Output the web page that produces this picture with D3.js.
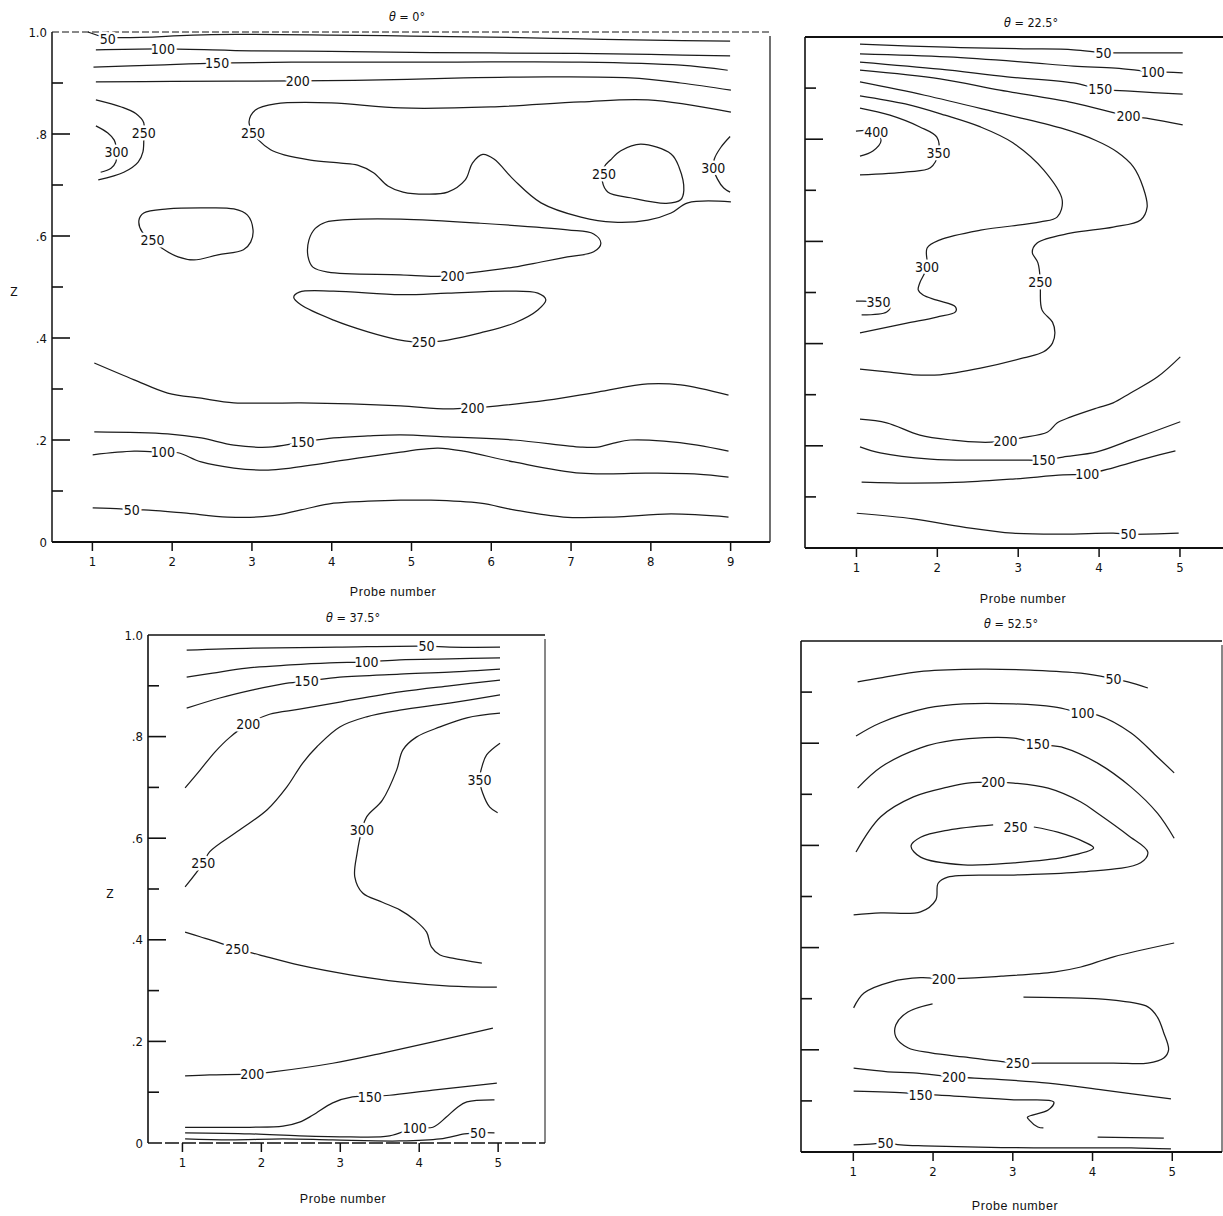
<!DOCTYPE html>
<html>
<head>
<meta charset="utf-8">
<script src="https://cdn.jsdelivr.net/npm/d3@7"></script>
<style>
  body { margin: 0; background: #fff; }
  svg text { font-family: "Liberation Sans Narrow", "DejaVu Sans Condensed", "Liberation Sans", sans-serif; fill: #111; }
  .contour { fill: none; stroke: #1c1c1c; stroke-width: 1.25; stroke-linejoin: round; }
  .clabel { font-size: 14px; paint-order: stroke; stroke: #fff; stroke-width: 5px; stroke-linejoin: round; }
  .tick text { font-size: 13px; }
  .atitle { font-family: "Liberation Sans", sans-serif !important; font-size: 12.5px; letter-spacing: 0.6px; }
</style>
</head>
<body>
<svg id="chart" width="1223" height="1216"></svg>
<script>
// tick values
const probes9 = [1, 2, 3, 4, 5, 6, 7, 8, 9];
const probes5 = [1, 2, 3, 4, 5];
const zTicks = [0.1, 0.2, 0.3, 0.4, 0.5, 0.6, 0.7, 0.8, 0.9];
const zLabelValues = [0, 0.2, 0.4, 0.6, 0.8, 1.0];
const zLabelText = ["0", ".2", ".4", ".6", ".8", "1.0"];

// contour lines, points are [probe number, Z], lab = where the value is written
const theta0 = [
  {v: "50", pts: [[0.95, 1.0], [1.18, 0.99], [2.5, 0.995], [4, 0.994], [5, 0.992], [6, 0.99], [7, 0.987], [8, 0.984], [9, 0.982]], lab: [1.2, 0.986]},
  {v: "100", pts: [[1.05, 0.965], [1.89, 0.967], [3, 0.963], [4, 0.962], [5, 0.96], [6, 0.959], [7, 0.958], [8, 0.956], [9, 0.953]], lab: [1.89, 0.967]},
  {v: "150", pts: [[1.02, 0.931], [1.8, 0.935], [2.57, 0.939], [3.5, 0.941], [5.4, 0.941], [7.13, 0.941], [8.38, 0.935], [8.97, 0.925]], lab: [2.57, 0.939]},
  {v: "200", pts: [[1.05, 0.902], [2, 0.903], [3.58, 0.904], [4.62, 0.906], [5.66, 0.91], [6.71, 0.912], [7.75, 0.91], [8.38, 0.9], [9.01, 0.886]], lab: [3.58, 0.904]},
  {v: "250", pts: [[9.01, 0.843], [7.97, 0.867], [7.13, 0.863], [6.0, 0.853], [4.87, 0.851], [4.0, 0.861], [3.3, 0.859], [3.05, 0.847], [2.97, 0.824], [3.02, 0.802], [3.09, 0.788], [3.24, 0.769], [3.41, 0.759], [3.74, 0.749], [4.12, 0.743], [4.33, 0.739], [4.53, 0.724], [4.71, 0.698], [4.9, 0.686], [5.2, 0.682], [5.46, 0.686], [5.68, 0.71], [5.77, 0.743], [5.9, 0.76], [6.04, 0.751], [6.29, 0.71], [6.63, 0.665], [7.13, 0.637], [7.54, 0.627], [7.97, 0.631], [8.26, 0.645], [8.47, 0.665], [9.01, 0.667]], lab: [3.02, 0.802]},
  {v: "250", pts: [[1.05, 0.867], [1.37, 0.853], [1.55, 0.84], [1.65, 0.822], [1.65, 0.802], [1.64, 0.765], [1.58, 0.745], [1.4, 0.725], [1.08, 0.71]], lab: [1.65, 0.802]},
  {v: "300", pts: [[1.05, 0.816], [1.2, 0.802], [1.28, 0.788], [1.31, 0.765], [1.3, 0.745], [1.24, 0.733], [1.11, 0.725]], lab: [1.31, 0.765]},
  {v: "250", closed: true, pts: [[1.86, 0.578], [2.08, 0.559], [2.28, 0.553], [2.58, 0.563], [2.9, 0.573], [2.99, 0.588], [3.02, 0.612], [2.95, 0.641], [2.78, 0.653], [2.37, 0.655], [1.95, 0.653], [1.65, 0.645], [1.59, 0.631], [1.63, 0.608]], lab: [1.76, 0.592]},
  {v: "200", closed: true, pts: [[5.34, 0.521], [4.87, 0.524], [3.96, 0.529], [3.77, 0.539], [3.71, 0.559], [3.72, 0.592], [3.8, 0.615], [3.93, 0.627], [4.2, 0.632], [4.87, 0.633], [5.87, 0.625], [6.96, 0.612], [7.29, 0.604], [7.38, 0.586], [7.29, 0.569], [6.96, 0.559], [6.63, 0.549], [6.29, 0.539], [5.71, 0.527]], lab: [5.52, 0.522]},
  {v: "250", closed: true, pts: [[5.0, 0.393], [4.83, 0.397], [4.46, 0.412], [4.03, 0.435], [3.62, 0.465], [3.53, 0.48], [3.6, 0.49], [4.03, 0.492], [4.87, 0.485], [5.46, 0.488], [6.21, 0.492], [6.59, 0.488], [6.69, 0.475], [6.59, 0.455], [6.29, 0.429], [5.87, 0.41], [5.46, 0.396], [5.3, 0.393]], lab: [5.16, 0.392]},
  {v: "250", closed: true, pts: [[7.4, 0.706], [7.47, 0.686], [7.75, 0.675], [8.2, 0.664], [8.38, 0.671], [8.42, 0.69], [8.36, 0.735], [8.26, 0.761], [7.88, 0.78], [7.63, 0.767], [7.5, 0.749], [7.42, 0.735]], lab: [7.42, 0.722]},
  {v: "300", pts: [[9.0, 0.795], [8.88, 0.773], [8.8, 0.75], [8.79, 0.733], [8.84, 0.712], [8.92, 0.694], [9.0, 0.686]], lab: [8.79, 0.733]},
  {v: "200", pts: [[1.03, 0.351], [1.53, 0.318], [1.95, 0.292], [2.37, 0.282], [2.78, 0.273], [3.62, 0.273], [4.25, 0.271], [4.87, 0.267], [5.46, 0.261], [5.77, 0.263], [6.09, 0.267], [6.71, 0.278], [7.34, 0.294], [7.97, 0.31], [8.38, 0.308], [8.98, 0.288]], lab: [5.77, 0.263]},
  {v: "150", pts: [[1.03, 0.216], [1.95, 0.212], [2.37, 0.204], [2.78, 0.19], [3.21, 0.186], [3.64, 0.196], [4.03, 0.204], [4.46, 0.208], [4.87, 0.21], [5.46, 0.206], [6.29, 0.2], [7.13, 0.186], [7.34, 0.186], [7.54, 0.194], [7.75, 0.2], [8.17, 0.198], [8.59, 0.19], [8.98, 0.178]], lab: [3.64, 0.196]},
  {v: "100", pts: [[1.01, 0.171], [1.53, 0.178], [1.89, 0.176], [2.08, 0.175], [2.37, 0.157], [2.78, 0.145], [3.21, 0.141], [3.49, 0.145], [4.35, 0.165], [4.87, 0.176], [5.04, 0.18], [5.34, 0.184], [5.66, 0.178], [6.29, 0.157], [7.13, 0.135], [7.97, 0.135], [8.59, 0.133], [8.98, 0.127]], lab: [1.89, 0.176]},
  {v: "50", pts: [[1.01, 0.067], [1.36, 0.065], [1.5, 0.063], [1.65, 0.063], [2.15, 0.057], [2.7, 0.049], [3.24, 0.051], [3.62, 0.063], [4.03, 0.076], [4.46, 0.08], [4.87, 0.082], [5.25, 0.082], [5.87, 0.076], [6.29, 0.063], [6.91, 0.049], [7.54, 0.049], [8.26, 0.055], [8.98, 0.049]], lab: [1.5, 0.063]}
];

const theta22 = [
  {v: "50", pts: [[1.05, 0.986], [2.13, 0.98], [3.07, 0.977], [3.69, 0.975], [4.06, 0.969], [4.27, 0.969], [5.04, 0.969]], lab: [4.06, 0.969]},
  {v: "100", pts: [[1.05, 0.967], [2.13, 0.961], [3.07, 0.951], [3.69, 0.943], [4.21, 0.939], [4.67, 0.932], [5.04, 0.93]], lab: [4.67, 0.932]},
  {v: "150", pts: [[1.05, 0.951], [2.04, 0.937], [2.87, 0.922], [3.69, 0.91], [4.02, 0.898], [4.39, 0.894], [5.04, 0.888]], lab: [4.02, 0.898]},
  {v: "200", pts: [[1.05, 0.935], [2.04, 0.918], [2.78, 0.896], [3.69, 0.871], [4.37, 0.845], [4.64, 0.84], [5.04, 0.828]], lab: [4.37, 0.845]},
  {v: "250", pts: [[1.05, 0.912], [1.85, 0.886], [2.78, 0.851], [3.53, 0.822], [3.96, 0.798], [4.23, 0.775], [4.43, 0.746], [4.55, 0.706], [4.6, 0.667], [4.52, 0.642], [4.18, 0.628], [3.65, 0.616], [3.24, 0.597], [3.18, 0.579], [3.25, 0.558], [3.28, 0.521], [3.28, 0.505], [3.3, 0.466], [3.43, 0.442], [3.46, 0.421], [3.43, 0.401], [3.32, 0.384], [3.07, 0.372], [2.54, 0.352], [2.04, 0.339], [1.71, 0.339], [1.42, 0.344], [1.05, 0.35]], lab: [3.28, 0.521]},
  {v: "300", pts: [[1.05, 0.885], [1.61, 0.869], [2.1, 0.847], [2.54, 0.824], [2.94, 0.793], [3.32, 0.74], [3.55, 0.681], [3.49, 0.648], [3.28, 0.638], [2.54, 0.622], [2.04, 0.603], [1.88, 0.587], [1.88, 0.55], [1.79, 0.519], [1.77, 0.505], [1.83, 0.495], [2.0, 0.485], [2.23, 0.472], [2.23, 0.462], [2.0, 0.452], [1.63, 0.44], [1.05, 0.421]], lab: [1.88, 0.55]},
  {v: "350", pts: [[1.05, 0.861], [1.42, 0.847], [1.79, 0.824], [2.0, 0.804], [2.02, 0.773], [1.92, 0.744], [1.63, 0.736], [1.05, 0.73]], lab: [2.02, 0.773]},
  {v: "400", pts: [[1.0, 0.816], [1.25, 0.814], [1.31, 0.797], [1.21, 0.777], [1.05, 0.767]], lab: [1.25, 0.814]},
  {v: "350", pts: [[1.0, 0.483], [1.28, 0.481], [1.42, 0.472], [1.38, 0.462], [1.07, 0.456]], lab: [1.28, 0.481]},
  {v: "200", pts: [[1.05, 0.252], [1.38, 0.245], [1.79, 0.221], [2.2, 0.211], [2.54, 0.207], [2.85, 0.209], [3.03, 0.215], [3.37, 0.227], [3.49, 0.245], [3.65, 0.256], [3.98, 0.274], [4.18, 0.284], [4.39, 0.303], [4.73, 0.335], [5.01, 0.374]], lab: [2.85, 0.209]},
  {v: "150", pts: [[1.05, 0.198], [1.3, 0.186], [1.92, 0.174], [2.54, 0.172], [3.03, 0.172], [3.32, 0.172], [3.56, 0.178], [3.98, 0.188], [4.39, 0.211], [5.01, 0.247]], lab: [3.32, 0.172]},
  {v: "100", pts: [[1.07, 0.129], [1.71, 0.127], [2.33, 0.129], [2.94, 0.135], [3.56, 0.143], [3.86, 0.145], [4.18, 0.157], [4.6, 0.176], [4.95, 0.19]], lab: [3.86, 0.145]},
  {v: "50", pts: [[1.01, 0.068], [1.71, 0.057], [2.33, 0.041], [2.94, 0.029], [3.56, 0.027], [4.18, 0.029], [4.37, 0.027], [4.99, 0.029]], lab: [4.37, 0.027]}
];

const theta37 = [
  {v: "50", pts: [[1.06, 0.97], [1.9, 0.974], [2.96, 0.976], [4.1, 0.978], [4.39, 0.976], [5.03, 0.976]], lab: [4.1, 0.978]},
  {v: "100", pts: [[1.06, 0.917], [1.39, 0.925], [1.82, 0.935], [2.37, 0.941], [2.87, 0.945], [3.34, 0.947], [3.76, 0.951], [4.39, 0.953], [5.03, 0.955]], lab: [3.34, 0.947]},
  {v: "150", pts: [[1.06, 0.856], [1.48, 0.876], [1.9, 0.892], [2.28, 0.904], [2.58, 0.909], [3.0, 0.917], [3.76, 0.923], [4.39, 0.927], [5.03, 0.933]], lab: [2.58, 0.909]},
  {v: "200", pts: [[1.04, 0.699], [1.23, 0.734], [1.42, 0.77], [1.61, 0.799], [1.84, 0.825], [2.11, 0.844], [2.49, 0.854], [3.0, 0.868], [3.76, 0.888], [4.39, 0.9], [5.03, 0.911]], lab: [1.84, 0.825]},
  {v: "250", pts: [[1.04, 0.504], [1.27, 0.551], [1.35, 0.573], [1.73, 0.616], [2.08, 0.656], [2.33, 0.701], [2.53, 0.748], [2.71, 0.78], [3.0, 0.819], [3.34, 0.839], [3.76, 0.852], [4.39, 0.866], [5.03, 0.882]], lab: [1.27, 0.551]},
  {v: "300", pts: [[5.03, 0.846], [4.61, 0.837], [4.27, 0.819], [3.97, 0.799], [3.8, 0.774], [3.72, 0.734], [3.54, 0.675], [3.34, 0.642], [3.28, 0.616], [3.22, 0.571], [3.19, 0.524], [3.29, 0.492], [3.54, 0.474], [3.76, 0.459], [3.95, 0.439], [4.1, 0.415], [4.16, 0.386], [4.27, 0.37], [4.43, 0.364], [4.8, 0.354]], lab: [3.28, 0.616]},
  {v: "350", pts: [[5.03, 0.787], [4.86, 0.764], [4.8, 0.74], [4.77, 0.715], [4.81, 0.689], [4.9, 0.661], [5.0, 0.65]], lab: [4.77, 0.715]},
  {v: "250", pts: [[1.04, 0.415], [1.23, 0.406], [1.44, 0.396], [1.7, 0.382], [1.99, 0.37], [2.49, 0.35], [3.13, 0.331], [3.76, 0.317], [4.39, 0.309], [4.99, 0.307]], lab: [1.7, 0.382]},
  {v: "200", pts: [[1.04, 0.132], [1.35, 0.134], [1.89, 0.136], [2.15, 0.14], [2.91, 0.157], [3.54, 0.177], [4.18, 0.199], [4.94, 0.226]], lab: [1.89, 0.136]},
  {v: "150", pts: [[1.04, 0.031], [1.86, 0.031], [2.28, 0.033], [2.49, 0.041], [2.66, 0.055], [2.91, 0.079], [3.16, 0.091], [3.38, 0.091], [3.63, 0.094], [4.18, 0.104], [4.99, 0.118]], lab: [3.38, 0.091]},
  {v: "100", pts: [[1.04, 0.02], [1.86, 0.018], [2.49, 0.014], [3.13, 0.012], [3.63, 0.014], [3.95, 0.03], [4.18, 0.031], [4.35, 0.051], [4.48, 0.069], [4.61, 0.081], [4.96, 0.085]], lab: [3.95, 0.03]},
  {v: "50", pts: [[1.04, 0.008], [1.61, 0.006], [2.28, 0.008], [2.91, 0.006], [3.76, 0.004], [4.27, 0.008], [4.58, 0.018], [4.75, 0.02], [4.96, 0.02]], lab: [4.75, 0.02]}
];

const theta52 = [
  {v: "50", pts: [[1.06, 0.92], [1.35, 0.928], [1.89, 0.941], [2.61, 0.945], [3.23, 0.943], [3.86, 0.937], [4.27, 0.926], [4.45, 0.92], [4.7, 0.908]], lab: [4.27, 0.926]},
  {v: "100", pts: [[1.04, 0.814], [1.35, 0.84], [1.94, 0.869], [2.39, 0.877], [3.02, 0.877], [3.52, 0.871], [3.88, 0.859], [4.07, 0.855], [4.49, 0.82], [4.82, 0.773], [5.03, 0.742]], lab: [3.88, 0.859]},
  {v: "150", pts: [[1.06, 0.712], [1.35, 0.753], [1.85, 0.791], [2.27, 0.806], [3.02, 0.81], [3.32, 0.798], [3.65, 0.791], [4.07, 0.761], [4.49, 0.714], [4.82, 0.663], [5.03, 0.614]], lab: [3.32, 0.798]},
  {v: "200", pts: [[1.04, 0.587], [1.35, 0.656], [1.76, 0.695], [2.19, 0.714], [2.44, 0.722], [2.76, 0.724], [3.02, 0.722], [3.45, 0.712], [3.86, 0.685], [4.07, 0.663], [4.45, 0.62], [4.7, 0.587], [4.61, 0.566], [3.86, 0.548], [3.02, 0.542], [2.19, 0.538], [2.07, 0.526], [2.04, 0.493], [1.85, 0.47], [1.35, 0.468], [1.01, 0.464]], lab: [2.76, 0.724]},
  {v: "250", pts: [[2.76, 0.64], [2.2, 0.63], [1.85, 0.616], [1.73, 0.599], [1.85, 0.577], [2.39, 0.562], [3.02, 0.566], [3.65, 0.577], [4.02, 0.595], [3.9, 0.607], [3.57, 0.626], [3.27, 0.636]], lab: [3.04, 0.636]},
  {v: "200", pts: [[1.01, 0.282], [1.14, 0.311], [1.48, 0.333], [1.85, 0.341], [2.14, 0.339], [2.69, 0.342], [2.86, 0.344], [3.52, 0.352], [3.86, 0.362], [4.27, 0.382], [5.03, 0.409]], lab: [2.14, 0.339]},
  {v: "250", pts: [[2.0, 0.29], [1.69, 0.274], [1.54, 0.249], [1.54, 0.225], [1.69, 0.204], [1.98, 0.194], [2.39, 0.186], [3.07, 0.174], [3.45, 0.174], [4.27, 0.174], [4.7, 0.174], [4.9, 0.184], [4.96, 0.2], [4.9, 0.233], [4.82, 0.264], [4.7, 0.284], [4.27, 0.297], [3.86, 0.301], [3.14, 0.303]], lab: [3.07, 0.174]},
  {v: "200", pts: [[1.01, 0.164], [1.44, 0.157], [1.76, 0.155], [2.27, 0.147], [2.73, 0.143], [3.45, 0.135], [4.15, 0.121], [4.99, 0.104]], lab: [2.27, 0.147]},
  {v: "150", pts: [[1.01, 0.119], [1.69, 0.115], [1.85, 0.112], [2.02, 0.112], [2.61, 0.106], [3.02, 0.102], [3.52, 0.098], [3.45, 0.082], [3.19, 0.068], [3.21, 0.063], [3.32, 0.049], [3.39, 0.047]], lab: [1.85, 0.112]},
  {v: "100", pts: [[4.07, 0.029], [4.9, 0.027]]},
  {v: "50", pts: [[1.01, 0.014], [1.26, 0.016], [1.41, 0.018], [1.6, 0.014], [1.89, 0.012], [2.44, 0.01], [3.27, 0.008], [3.86, 0.008], [4.49, 0.008], [4.99, 0.006]], lab: [1.41, 0.018]}
];

// layout of the four panels
const panels = [
  {title: "0°", data: theta0, ticks: probes9, xd: [0.5, 9.5], xr: [52, 770], yr: [542, 32], zLabels: true,
   titleAt: [407, 17], probeAt: [393, 592], zAt: [14, 292],
   frame: {top: [1, "7 3"], left: [1.5], right: [1.2], bottom: [2]}},
  {title: "22.5°", data: theta22, ticks: probes5, xd: [0.37, 5.6], xr: [805, 1228], yr: [548, 37], zLabels: false,
   titleAt: [1031, 23], probeAt: [1023, 599],
   frame: {top: [2.2], left: [1.6], bottom: [2.2]}},
  {title: "37.5°", data: theta37, ticks: probes5, xd: [0.57, 5.6], xr: [148, 545], yr: [1143, 635], zLabels: true,
   titleAt: [353, 618], probeAt: [343, 1199], zAt: [110, 894],
   frame: {top: [1.6], left: [1.6], right: [1], bottom: [1.4, "14 3"]}},
  {title: "52.5°", data: theta52, ticks: probes5, xd: [0.35, 5.63], xr: [801, 1222], yr: [1152, 641], zLabels: false,
   titleAt: [1011, 624], probeAt: [1015, 1206],
   frame: {top: [1.6], left: [1.6], right: [1], bottom: [1.8]}}
];

const svg = d3.select("#chart");

panels.forEach(p => {
  const x = d3.scaleLinear().domain(p.xd).range(p.xr);
  const y = d3.scaleLinear().domain([0, 1]).range(p.yr);
  const g = svg.append("g");
  const [xl, xrt] = p.xr, [yb, yt] = p.yr;

  // frame
  const sides = {
    top: [xl, yt, xrt, yt], bottom: [xl, yb, xrt, yb],
    left: [xl, yt, xl, yb], right: [xrt, yt + 4, xrt, yb]
  };
  Object.keys(p.frame).forEach(k => {
    const s = sides[k], st = p.frame[k];
    g.append("line")
      .attr("x1", s[0]).attr("y1", s[1]).attr("x2", s[2]).attr("y2", s[3])
      .attr("stroke", "#111").attr("stroke-width", st[0])
      .attr("stroke-dasharray", st[1] || null);
  });

  // Z ticks point inward from the left axis
  g.selectAll(".zt").data(zTicks).enter().append("line")
    .attr("x1", xl).attr("x2", d => xl + (Math.round(d * 10) % 2 === 0 ? 18 : 11))
    .attr("y1", d => y(d)).attr("y2", d => y(d))
    .attr("stroke", "#111").attr("stroke-width", 1.6);

  if (p.zLabels) {
    g.selectAll(".zl").data(zLabelValues).enter().append("text")
      .attr("x", xl - 5).attr("y", d => y(d)).attr("dy", "0.35em")
      .attr("text-anchor", "end").style("font-size", "13px")
      .text((d, i) => zLabelText[i]);
    g.append("text").attr("x", p.zAt[0]).attr("y", p.zAt[1]).attr("dy", "0.35em")
      .attr("text-anchor", "middle").style("font-size", "12px").text("Z");
  }

  // probe axis
  const ax = g.append("g").attr("transform", `translate(0,${yb})`)
    .call(d3.axisBottom(x).tickValues(p.ticks).tickSize(9).tickPadding(6).tickFormat(d3.format("d")));
  ax.select(".domain").remove();
  ax.selectAll(".tick line").attr("stroke", "#111").attr("stroke-width", 1.5);
  ax.selectAll(".tick text").attr("fill", "#111");

  g.append("text").attr("class", "atitle")
    .attr("x", p.probeAt[0]).attr("y", p.probeAt[1]).attr("dy", "0.35em")
    .attr("text-anchor", "middle").text("Probe number");

  const t = g.append("text").attr("x", p.titleAt[0]).attr("y", p.titleAt[1]).attr("dy", "0.35em")
    .attr("text-anchor", "middle").style("font-size", "12.5px");
  t.append("tspan").style("font-style", "italic").text("θ");
  t.append("tspan").text(" = " + p.title);

  // contours
  const open = d3.line().x(d => x(d[0])).y(d => y(d[1])).curve(d3.curveCatmullRom.alpha(0.5));
  const closed = d3.line().x(d => x(d[0])).y(d => y(d[1])).curve(d3.curveCatmullRomClosed.alpha(0.5));
  g.selectAll(".contour").data(p.data).enter().append("path")
    .attr("class", "contour")
    .attr("d", d => (d.closed ? closed : open)(d.pts));

  g.selectAll(".clabel").data(p.data.filter(d => d.lab)).enter().append("text")
    .attr("class", "clabel")
    .attr("x", d => x(d.lab[0])).attr("y", d => y(d.lab[1])).attr("dy", "0.36em")
    .attr("text-anchor", "middle").text(d => d.v);
});
</script>
</body>
</html>
